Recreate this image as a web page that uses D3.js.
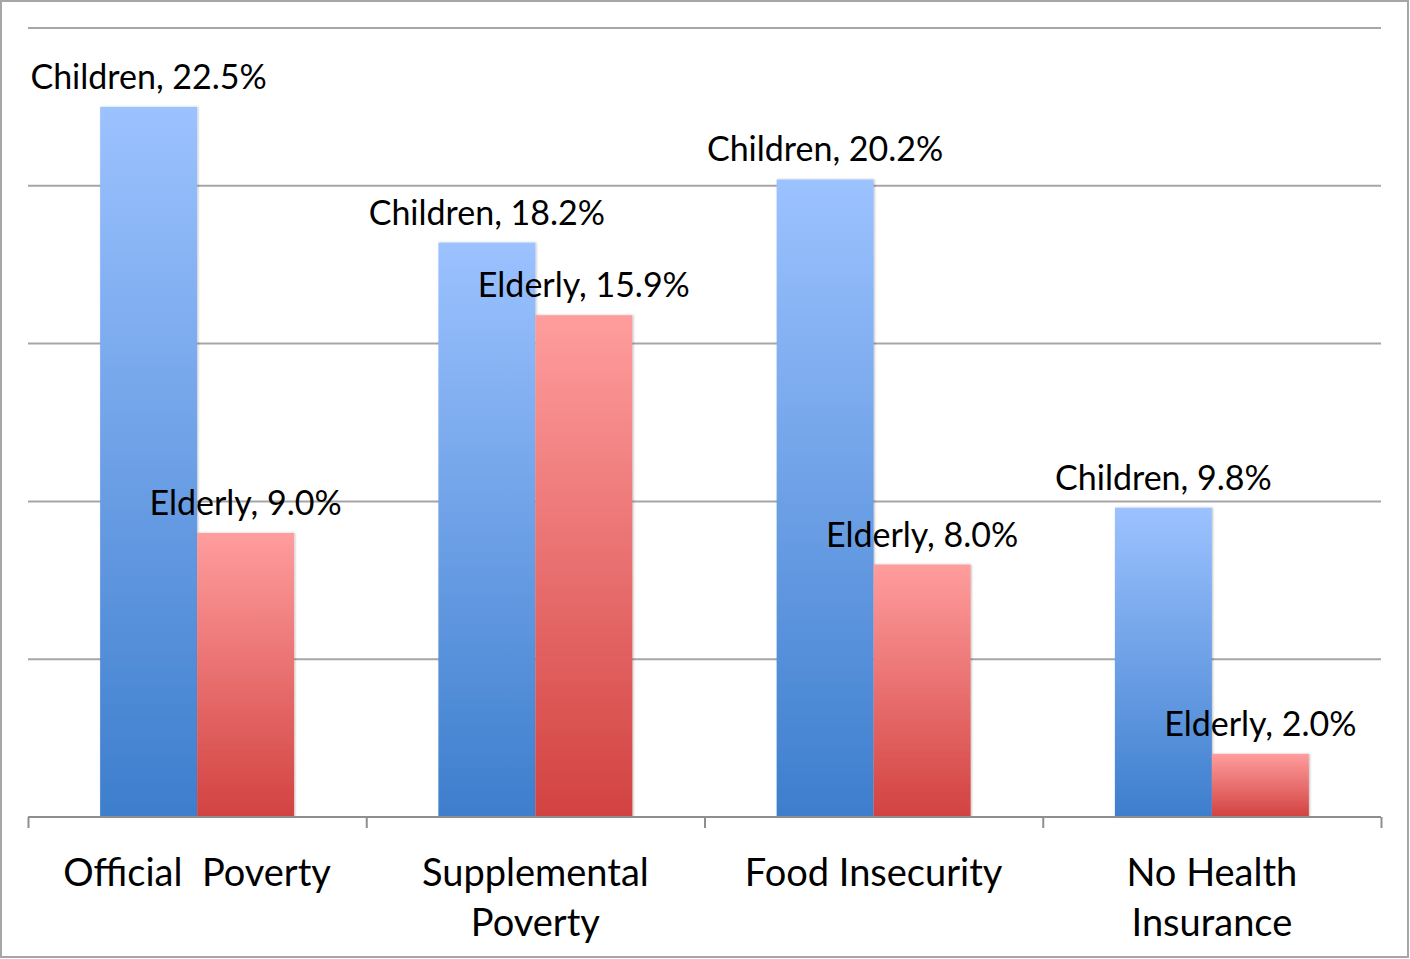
<!DOCTYPE html>
<html>
<head>
<meta charset="utf-8">
<script src="https://cdn.jsdelivr.net/npm/d3@7"></script>
<style>
  html, body { margin: 0; padding: 0; background: #fff; }
  svg { display: block; }
  text { font-family: Lato, "Open Sans", sans-serif; fill: #000; }
</style>
</head>
<body>
<svg id="chart" width="1410" height="959"></svg>
<script>
const categories = [["Official  Poverty"], ["Supplemental", "Poverty"], ["Food Insecurity"], ["No Health", "Insurance"]];
const series = ["Children", "Elderly"];
const children = [22.5, 18.2, 20.2, 9.8];
const elderly = [9.0, 15.9, 8.0, 2.0];
const yTicks = [0, 5, 10, 15, 20, 25];

(function () {
const W = 1410, H = 959;
const plotL = 28, plotR = 1381, plotT = 28, base = 817;

const svg = d3.select("#chart");

const defs = svg.append("defs");
const grads = [
  {id: "gBlue", c0: "#9cc2ff", c1: "#3d7ecd"},
  {id: "gRed", c0: "#ff9d9d", c1: "#d24241"}
];
grads.forEach(g => {
  const lg = defs.append("linearGradient").attr("id", g.id)
    .attr("x1", 0).attr("y1", 0).attr("x2", 0).attr("y2", 1);
  lg.append("stop").attr("offset", "0%").attr("stop-color", g.c0);
  lg.append("stop").attr("offset", "100%").attr("stop-color", g.c1);
});
const f = defs.append("filter").attr("id", "shadow").attr("x", "-10%").attr("y", "-10%").attr("width", "130%").attr("height", "120%");
f.append("feDropShadow").attr("dx", 1).attr("dy", 0).attr("stdDeviation", 1.2).attr("flood-color", "#000").attr("flood-opacity", 0.25);

// border
svg.append("rect").attr("x", 1).attr("y", 1).attr("width", W - 3).attr("height", H - 3)
  .attr("fill", "none").attr("stroke", "#a6a6a6").attr("stroke-width", 2);

const y = d3.scaleLinear().domain([0, 25]).range([base, plotT]);
const catKeys = categories.map((c, i) => i);
const x0 = d3.scaleBand().domain(catKeys).range([plotL, plotR]).paddingInner(0).paddingOuter(0);
const x1 = d3.scaleBand().domain(series).range([0, x0.bandwidth()]).paddingInner(0).paddingOuter(0.744);

// gridlines
svg.append("g").selectAll("line").data(yTicks.filter(t => t > 0)).join("line")
  .attr("x1", plotL).attr("x2", plotR)
  .attr("y1", d => y(d)).attr("y2", d => y(d))
  .attr("stroke", "#a6a6a6").attr("stroke-width", 2);

const data = catKeys.map(i => ({i, vals: [{s: "Children", v: children[i]}, {s: "Elderly", v: elderly[i]}]}));

const groups = svg.append("g").selectAll("g").data(data).join("g")
  .attr("transform", d => `translate(${x0(d.i)},0)`);

groups.selectAll("rect").data(d => d.vals).join("rect")
  .attr("x", d => x1(d.s))
  .attr("y", d => y(d.v))
  .attr("width", x1.bandwidth())
  .attr("height", d => base - y(d.v))
  .attr("fill", d => d.s === "Children" ? "url(#gBlue)" : "url(#gRed)")
  .attr("filter", "url(#shadow)");

// axis baseline & ticks
const xAxis = d3.axisBottom(d3.scaleLinear().domain([0, 4]).range([plotL, plotR]))
  .tickValues([0, 1, 2, 3, 4]).tickSize(11).tickFormat("");
const ax = svg.append("g").attr("transform", `translate(0,${base})`).call(xAxis);
ax.select(".domain").attr("stroke", "#8e8e8e").attr("stroke-width", 2).attr("d", `M${plotL},0H${plotR}`);
ax.selectAll(".tick line").attr("stroke", "#8e8e8e").attr("stroke-width", 2);

// data labels
groups.selectAll("text.lbl").data(d => d.vals).join("text").attr("class", "lbl")
  .attr("x", d => x1(d.s) + x1.bandwidth() / 2)
  .attr("y", d => y(d.v) - 18)
  .attr("text-anchor", "middle")
  .attr("font-size", 34)
  .text(d => `${d.s}, ${d.v.toFixed(1)}%`);

// category labels
groups.each(function(d) {
  const t = d3.select(this).append("text")
    .attr("text-anchor", "middle").attr("font-size", 38)
    .attr("x", x0.bandwidth() / 2).attr("y", 886)
    .attr("xml:space", "preserve");
  categories[d.i].forEach((line, k) => {
    t.append("tspan").attr("x", x0.bandwidth() / 2).attr("y", 886 + k * 50).text(line);
  });
});
})();
</script>
</body>
</html>
